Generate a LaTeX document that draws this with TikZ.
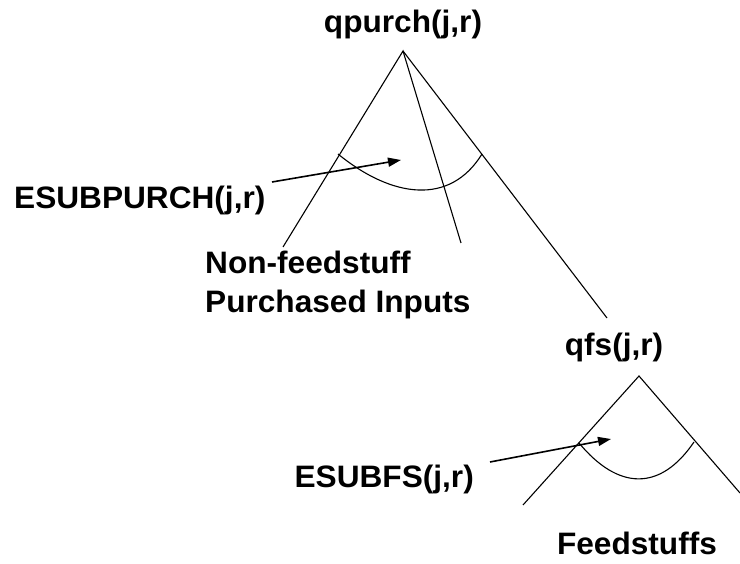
\documentclass[tikz,border=0pt]{standalone}
\usepackage{fontspec}
\setmainfont[FakeStretch=1.02]{Liberation Sans}
\usetikzlibrary{arrows.meta}
\tikzset{
  treelabel/.style={font=\bfseries\fontsize{31}{38}\selectfont,inner sep=0pt},
  branch/.style={draw,line width=1.1pt},
  nest curve/.style={draw,line width=1.1pt},
  pointer/.style={draw,line width=1.6pt,-{Triangle[length=13pt,width=9pt]}},
}

\begin{document}
\begin{tikzpicture}[x=1pt,y=-1pt]
\useasboundingbox (0,0) rectangle (740,564);
% upper nest: purchased inputs
\node[treelabel,anchor=base] (qpurch) at (403,33) {qpurch(j,r)};
\coordinate (ptop) at (403,51);
\coordinate (pleft) at (283,247);
\coordinate (pmid) at (461,243);
\coordinate (pright) at (607,318);
\draw[branch] (pleft) -- (ptop) -- (pmid);
\draw[branch] (ptop) -- (pright);
\coordinate (parcL) at (338,154);
\coordinate (parcR) at (482,154);
\draw[nest curve] (parcL) .. controls (392,198) and (450,206) .. (parcR);
\node[treelabel,anchor=base west] (esubpurch) at (14,209) {ESUBPURCH(j,r)};
\node[treelabel,anchor=base west] (nonfeed) at (205,274) {Non-feedstuff};
\node[treelabel,anchor=base west] (purchin) at (205,313) {Purchased Inputs};
\coordinate (ppfrom) at (272,182);
\coordinate (ppto) at (401,160);
\draw[pointer] (ppfrom) -- (ppto);
% lower nest: feedstuffs
\node[treelabel,anchor=base] (qfs) at (614,356) {qfs(j,r)};
\coordinate (ftop) at (639,376);
\coordinate (fleft) at (523,505);
\coordinate (fright) at (740,493);
\draw[branch] (fleft) -- (ftop) -- (fright);
\coordinate (farcL) at (579,443);
\coordinate (farcR) at (694,442);
\draw[nest curve] (farcL) .. controls (618,490) and (660,492) .. (farcR);
\node[treelabel,anchor=base east] (esubfs) at (474,487) {ESUBFS(j,r)};
\node[treelabel,anchor=base] (feedst) at (637,554) {Feedstuffs};
\coordinate (fpfrom) at (490,462);
\coordinate (fpto) at (611,439);
\draw[pointer] (fpfrom) -- (fpto);
\end{tikzpicture}
\end{document}
